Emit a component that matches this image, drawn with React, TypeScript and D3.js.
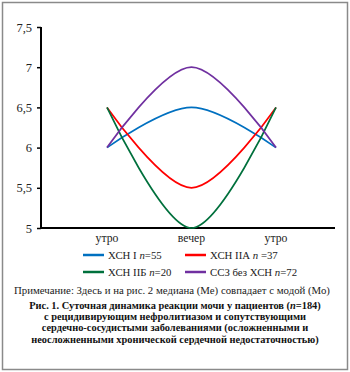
import React, { useEffect, useRef } from 'react';
import * as d3 from 'd3';

// chart data
const categories = ['утро', 'вечер', 'утро2'];
const categoryLabels = ['утро', 'вечер', 'утро'];
const yTicks = [5, 5.5, 6, 6.5, 7, 7.5];

const seriesNames = ['ХСН I', 'ХСН IIА', 'ХСН IIБ', 'ССЗ без ХСН'];
const seriesN = ['=55', ' =37', '=20', '=72'];
const seriesColors = ['#0070C0', '#FF0000', '#00703C', '#7030A0'];
const hsn1 = [6, 6.5, 6];
const hsn2a = [6.5, 5.5, 6.5];
const hsn2b = [6.5, 5, 6.5];
const ssz = [6, 7, 6];
const allSeries = [hsn1, hsn2a, hsn2b, ssz];

const note = 'Примечание: Здесь и на  рис. 2 медиана (Ме) совпадает с модой (Мо)';
const captionLines = [
    'Рис. 1. Суточная динамика реакции мочи у пациентов (',
    'с рецидивирующим нефролитиазом и сопутствующими',
    'сердечно-сосудистыми заболеваниями (осложненными и',
    'неосложненными хронической сердечной недостаточностью)',
];

const W = 350;
const H = 372;
const FONT = '"Liberation Serif", "Times New Roman", Times, serif';

export default function App() {
    const ref = useRef<SVGSVGElement>(null);

    useEffect(() => {
        const svg = d3.select(ref.current);
        svg.selectAll('*').remove();

        const x = d3.scalePoint<string>().domain(categories).range([107, 276]);
        const y = d3.scaleLinear().domain([5, 7.5]).range([228, 27]);

        // outer frame
        svg.append('rect')
            .attr('x', 2.5).attr('y', 2.5)
            .attr('width', W - 5).attr('height', H - 5)
            .attr('fill', 'none')
            .attr('stroke', '#8a8a8a')
            .attr('stroke-width', 1.5);

        // y axis
        const yAxis = svg.append('g')
            .attr('transform', 'translate(41,0)')
            .call(d3.axisLeft(y).tickValues(yTicks).tickSize(4).tickPadding(5)
                .tickFormat(d => String(d).replace('.', ',')));
        yAxis.attr('font-family', null);
        yAxis.select('.domain').attr('stroke', '#000').attr('stroke-width', 2).attr('d', `M0,${y(7.5)}V${y(5)}`);
        yAxis.selectAll('line').attr('stroke', '#000').attr('stroke-width', 1.5);
        yAxis.selectAll('text')
            .style('font-family', FONT)
            .style('font-size', '12.5px')
            .attr('fill', '#222');

        // x axis
        svg.append('line')
            .attr('x1', 40).attr('x2', 335)
            .attr('y1', y(5)).attr('y2', y(5))
            .attr('stroke', '#000').attr('stroke-width', 2);
        svg.selectAll('text.xlab')
            .data(categories)
            .enter()
            .append('text')
            .attr('class', 'xlab')
            .attr('x', d => x(d)!)
            .attr('y', 242)
            .attr('text-anchor', 'middle')
            .style('font-family', FONT)
            .style('font-size', '11.7px')
            .attr('fill', '#222')
            .text((d, i) => categoryLabels[i]);

        // lines
        const line = d3.line<number>()
            .x((d, i) => x(categories[i])!)
            .y(d => y(d))
            .curve(d3.curveCardinal.tension(0));
        svg.selectAll('path.series')
            .data(allSeries)
            .enter()
            .append('path')
            .attr('class', 'series')
            .attr('d', d => line(d))
            .attr('fill', 'none')
            .attr('stroke', (d, i) => seriesColors[i])
            .attr('stroke-width', 1.7);

        // legend
        const legendPos = [[83, 255], [185, 255], [83, 272], [185, 272]];
        seriesNames.forEach((name, i) => {
            const [lx, ly] = legendPos[i];
            svg.append('line')
                .attr('x1', lx).attr('x2', lx + 21)
                .attr('y1', ly).attr('y2', ly)
                .attr('stroke', seriesColors[i]).attr('stroke-width', 2.5);
            const t = svg.append('text')
                .attr('x', lx + 25).attr('y', ly + 4)
                .style('font-family', FONT)
                .style('font-size', '10.8px')
                .attr('fill', '#222');
            t.append('tspan').text(name + ' ');
            t.append('tspan').style('font-style', 'italic').text('n');
            t.append('tspan').text(seriesN[i]);
        });

        // note
        svg.append('text')
            .attr('x', 14).attr('y', 294)
            .style('font-family', FONT)
            .style('font-size', '10.8px')
            .attr('fill', '#222')
            .text(note);

        // caption
        captionLines.forEach((l, i) => {
            const t = svg.append('text')
                .attr('x', W / 2).attr('y', 309 + i * 11.2)
                .attr('text-anchor', 'middle')
                .style('font-family', FONT)
                .style('font-size', '10.4px')
                .style('font-weight', 'bold')
                .attr('fill', '#111');
            t.append('tspan').text(l);
            if (i === 0) {
                t.append('tspan').style('font-style', 'italic').text('n');
                t.append('tspan').text('=184)');
            }
        });
    }, []);

    return (
        <svg ref={ref} width={W} height={H}
            style={{ position: 'absolute', left: 0, top: 0, background: '#fff' }} />
    );
}
